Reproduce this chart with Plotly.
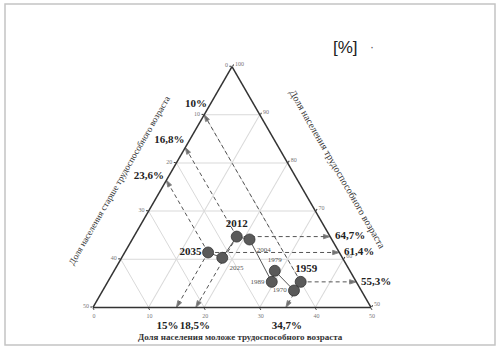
import plotly.graph_objects as go

# ---- data (shares of population, %) ----
years = ["1959", "1970", "1979", "1989", "2004", "2012", "2025", "2035"]
working = [55.3, 53.5, 57.6, 55.3, 64.1, 64.7, 60.3, 61.4]
young = [34.7, 34.4, 28.9, 29.5, 21.1, 18.5, 18.1, 15.0]
old = [round(100 - w - y, 1) for w, y in zip(working, young)]

key_years = ["1959", "2012", "2035"]
year_pos = ["top center", "middle left", "top center", "middle left",
            "bottom right", "top center", "bottom right", "middle left"]

# tick labels
a_ticks = [50, 60, 70, 80, 90, 100]
a_text = ["50", "40", "30", "20", "10", "0"]
b_ticks = [0, 10, 20, 30, 40, 50]
b_text = ["50", "40", "30", "20", "10", "0"]
c_ticks = [0, 10, 20, 30, 40, 50]
c_text = ["100", "90", "80", "70", "60", "50"]

title_old = "Доля населения старше трудоспособного возраста"
title_work = "Доля населения трудоспособного возраста"
title_young = "Доля населения моложе трудоспособного возраста"

NB = "\u00a0"

# label placement along the edges (pixels): left labels slide up the edge,
# bottom labels slide along the base
left_slide = {"1959": 0, "2012": 7, "2035": 4}
left_pos = {"1959": "top center", "2012": "middle left", "2035": "middle left"}
bottom_slide = {"1959": 1, "2012": -1, "2035": -9}

def fmt(v):
    s = ("%.1f" % v).replace(".", ",")
    if s.endswith(",0"):
        s = s[:-2]
    return s + "%"

W, H = 500, 353
X0, X1, YT, YB = 93, 371, 65, 309
SIDE = X1 - X0
HT = SIDE * 3 ** 0.5 / 2
PX_C = SIDE / 50.0          # px per unit along the base
PX_A = HT / 50.0            # px per unit vertically

fig = go.Figure()
SERIF = "Liberation Serif"

def ghost(size):
    return dict(size=size, color="rgba(0,0,0,0)")

# dashed arrows from the key points to the three edges
idx = {y: i for i, y in enumerate(years)}
for yr in key_years:
    i = idx[yr]
    a, b, c = working[i], old[i], young[i]
    targets = [
        (100 - b, b, 0.0),   # left edge: old share
        (50.0, 50 - c, c),   # bottom edge: young share
        (a, 0.0, 100 - a),   # right edge: working share
    ]
    for ta, tb, tc in targets:
        fig.add_trace(go.Scatterternary(
            a=[a, ta], b=[b, tb], c=[c, tc],
            mode="lines+markers", cliponaxis=False,
            line=dict(color="#555", width=1, dash="4px,3px"),
            marker=dict(symbol="arrow", size=[0, 7], color="#333",
                        angleref="previous"),
            hoverinfo="skip", showlegend=False))

# main trajectory
fig.add_trace(go.Scatterternary(
    a=working, b=old, c=young, mode="lines+markers", cliponaxis=False,
    line=dict(color="#555", width=1),
    marker=dict(size=11, color="#5a5a5a", line=dict(color="#333", width=0.8)),
    showlegend=False))

# year labels
for i, yr in enumerate(years):
    big = yr in key_years
    fig.add_trace(go.Scatterternary(
        a=[working[i]], b=[old[i]], c=[young[i]], mode="markers+text",
        marker=ghost(9 if big else 10), cliponaxis=False,
        text=[(NB * 4 + yr) if yr == "1959" else yr], textposition=year_pos[i],
        textfont=dict(family=SERIF, size=11 if big else 7,
                      color="#222" if big else "#555",
                      weight="bold" if big else "normal"),
        hoverinfo="skip", showlegend=False))

# percentage labels at the edges
pfont = dict(family=SERIF, size=11, color="#222", weight="bold")
for yr in key_years:
    i = idx[yr]
    a, b, c = working[i], old[i], young[i]
    # left edge (c = 0)
    da = left_slide[yr] / PX_A
    ltxt = fmt(b) + (NB * 6 if left_pos[yr] == "top center" else "")
    fig.add_trace(go.Scatterternary(
        a=[100 - b + da], b=[b - da], c=[0], mode="markers+text", text=[ltxt],
        marker=ghost(0), cliponaxis=False,
        textposition=left_pos[yr], textfont=pfont,
        hoverinfo="skip", showlegend=False))
    # bottom edge (a = 50, nudged a hair inside so it is not filtered)
    dc = bottom_slide[yr] / PX_C
    cc = c + dc
    fig.add_trace(go.Scatterternary(
        a=[50.02], b=[49.98 - cc], c=[cc], mode="markers+text", text=[fmt(c)],
        marker=ghost(20), cliponaxis=False,
        textposition="bottom center", textfont=pfont,
        hoverinfo="skip", showlegend=False))
    # right edge (b = 0)
    fig.add_trace(go.Scatterternary(
        a=[a], b=[0], c=[100 - a], mode="markers+text", text=[fmt(a)],
        marker=ghost(6), cliponaxis=False,
        textposition="middle right", textfont=pfont,
        hoverinfo="skip", showlegend=False))

tickfont = dict(family=SERIF, size=6, color="#777")
axis_common = dict(ticks="outside", ticklen=2, tickcolor="#333",
                   linecolor="#333", linewidth=1.5, showline=True,
                   gridcolor="#d9d9d9", gridwidth=1, tickfont=tickfont,
                   tickmode="array", title=dict(text=""))

def ann(text, x, y, angle=0, size=9, weight="normal", family=SERIF, color="#333"):
    return dict(text=text, x=x / W, y=1 - y / H, xref="paper", yref="paper",
                xanchor="center", yanchor="middle", textangle=angle,
                showarrow=False,
                font=dict(family=family, size=size, color=color, weight=weight))

fig.update_layout(
    width=W, height=H,
    margin=dict(l=0, r=0, t=0, b=0),
    paper_bgcolor="white",
    ternary=dict(
        sum=100,
        bgcolor="rgba(0,0,0,0)",
        domain=dict(x=[X0 / W, X1 / W], y=[(H - YB) / H, (H - YT) / H]),
        aaxis=dict(min=50, tickvals=a_ticks, ticktext=a_text, **axis_common),
        baxis=dict(min=0, tickvals=b_ticks, ticktext=b_text, **axis_common),
        caxis=dict(min=0, tickvals=c_ticks, ticktext=c_text, **axis_common),
    ),
    annotations=[
        ann(title_old, 119, 181, angle=-60),
        ann(title_work, 338, 169, angle=60, size=10),
        ann(title_young, 240, 337, weight="bold"),
        ann("[%]", 345, 47, size=17, family="Liberation Sans", color="#222"),
        ann("·", 372, 47, size=12, family="Liberation Sans", color="#555"),
    ],
    shapes=[dict(type="rect", xref="paper", yref="paper",
                 x0=5 / W, x1=495 / W, y0=1 - 345 / H, y1=1 - 4 / H,
                 line=dict(color="#c4c4c4", width=1.5))],
)

fig.write_html("out.html")
